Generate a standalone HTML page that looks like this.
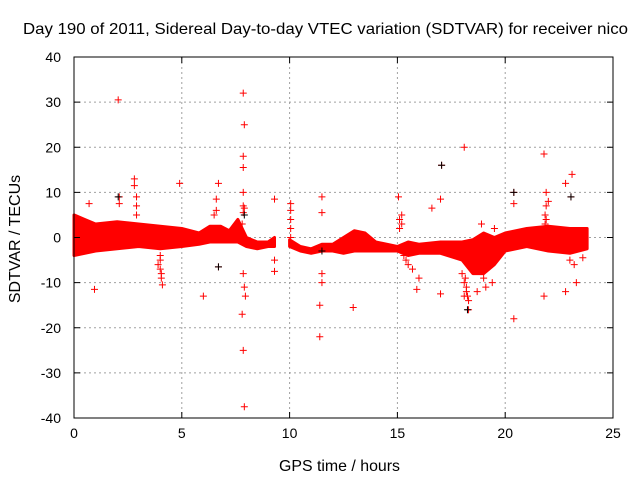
<!DOCTYPE html>
<html><head><meta charset="utf-8"><style>
body{margin:0;background:#fff}
svg text{font-family:"Liberation Sans",Arial,sans-serif;font-size:14px;fill:#000}
</style></head><body>
<svg id="c" width="640" height="480">
<rect width="640" height="480" fill="#fff"/>
<g id="grid"></g><g id="band"></g><g id="pts"></g><g id="axes"></g>
</svg>
<script>
const xTicks=[0,5,10,15,20,25];
const yTicks=[-40,-30,-20,-10,0,10,20,30,40];
// dense band: time, upper, lower (TECU)
const bandTimes=[0,0.5,1,2,3,4,5,5.8,6.3,6.8,7.2,7.6,8,8.5,9,9.3];
const bandUpper=[5,4,3,3.5,3,2.5,2,1,2.5,2.5,1.5,4,0,-1,-1,0];
const bandLower=[-4,-3.5,-3,-2.5,-2,-2.5,-2,-1.5,-1,-1,-1,-1,-2,-2.5,-2,-2];
const band2Times=[10,10.5,11,11.5,12,12.5,13,13.5,14,15,15.5,16,17,18,18.5,19,19.5,20,21,22,23,23.8];
const band2Upper=[-0.5,-2,-2.5,-1.5,-1.5,0,1.5,1,-1,-2,-1,-1.5,-1,-1,-0.5,1,0,1,2,2.5,2,2];
const band2Lower=[-2,-3,-3.5,-3,-3,-3.5,-3,-3,-3,-3,-4,-3.5,-3.5,-5,-8,-8,-6,-3,-2,-3,-3.5,-2.5];
// scattered points
const redT=[2.05,7.85,7.9,7.85,7.85,7.85,7.85,7.85,7.85,7.9,7.95,7.8,7.85,7.9,2.8,2.8,2.1,2.1,0.7,0.95,4.9,6.0,6.7,6.6,6.7,9.3,9.3,9.3,10.05,10.05,10.05,11.5,11.5,11.4,11.4,11.5,11.5,12.95,15.05,15.2,15.9,16.6,17.05,17.0,17.0,18.1,18.3,18.2,18.9,19.5,20.4,20.4,20.4,21.8,21.8,21.9,22.8,23.1,23.05,22.8,23.3,23.6,18.7,19.4,16.0,4.0,4.0,4.05,4.1,3.9,2.9,2.9,2.9,6.5,6.6,15.1,15.1,15.3,15.5,15.7,18.0,18.1,18.2,18.1,18.3,21.85,21.9,22.0,23.0,23.2,4.0,4.05,15.2,15.4,18.15,18.2,18.25,21.85,21.9,7.8,7.9,10.05,10.05,19.0,19.1];
const redV=[30.5,32,25,18,15.5,10,7,5.5,-8,-11,-13,-17,-25,-37.5,13,11.5,9,7.5,7.5,-11.5,12,-13,12,8.5,-6.5,8.5,-5,-7.5,7.5,6,4,9,5.5,-15,-22,-8,-10,-15.5,9,5,-11.5,6.5,16,8.5,-12.5,20,-16,-2,3,2,10,7.5,-18,18.5,-13,10,12,14,9,-12,-10,-4.5,-12,-10,-9,-5,-7,-9,-10.5,-6,5,7,9,5,6,4,2,-4,-6,-7,-8,-10,-12,-13,-14,5,7,8,-5,-6,-4,-8,3,-5,-9,-11,-13,3,4,3,6.5,2,0,-9,-11];
const blackT=[2.05,7.9,18.25,17.05,20.4,23.05,6.7,11.5];
const blackV=[9,5,-16,16,10,9,-6.5,-3];
const X0=74,X1=613,Y0=418,Y1=57;
const sx=t=>X0+(t-0)/(25-0)*(X1-X0);
const sy=v=>Y0-(v+40)/80*(Y0-Y1);
const NS="http://www.w3.org/2000/svg";
function mk(tag,attrs,parent){const e=document.createElementNS(NS,tag);for(const k in attrs)e.setAttribute(k,attrs[k]);parent.appendChild(e);return e;}
const g=document.getElementById('grid'),b=document.getElementById('band'),p=document.getElementById('pts'),a=document.getElementById('axes');
xTicks.forEach(t=>{if(t>0&&t<25){const l=mk('line',{x1:sx(t),x2:sx(t),y1:Y1,y2:Y0,stroke:'#a0a0a0','stroke-dasharray':'2,3'},g);

}});
yTicks.forEach(v=>{if(v>-40&&v<40){const l=mk('line',{x1:X0,x2:X1,y1:sy(v),y2:sy(v),stroke:'#a0a0a0','stroke-dasharray':'2,3'},g);

}});
function drawBand(T,U,L){let pts=T.map((t,i)=>sx(t)+','+sy(U[i]));for(let i=T.length-1;i>=0;i--)pts.push(sx(T[i])+','+sy(L[i]));
const e=mk('polygon',{points:pts.join(' '),fill:'#ff0000',stroke:'#ff0000','stroke-width':3,'stroke-linejoin':'round'},b);

}
drawBand(bandTimes,bandUpper,bandLower);
drawBand(band2Times,band2Upper,band2Lower);
function plus(t,v,col,name){const x=sx(t),y=sy(v);const e=mk('path',{d:`M${x-3.5},${y}h7M${x},${y-3.5}v7`,stroke:col,'stroke-width':1,fill:'none'},p);

}
redT.forEach((t,i)=>plus(t,redV[i],'#ff0000','sdtvar-point'));
blackT.forEach((t,i)=>plus(t,blackV[i],'#000','sdtvar-black-point'));
const fr=mk('rect',{x:X0,y:Y1,width:X1-X0,height:Y0-Y1,fill:'none',stroke:'#000'},a);


xTicks.forEach(t=>{mk('path',{d:`M${sx(t)},${Y0}v-6M${sx(t)},${Y1}v6`,stroke:'#000'},a);
const tx=mk('text',{x:sx(t),y:Y0+20,'text-anchor':'middle'},a);tx.textContent=t;

});
yTicks.forEach(v=>{mk('path',{d:`M${X0},${sy(v)}h6M${X1},${sy(v)}h-6`,stroke:'#000'},a);
const tx=mk('text',{x:X0-13,y:sy(v)+5,'text-anchor':'end'},a);tx.textContent=v;

});
</script>
<svg style="position:absolute;left:0;top:0" width="640" height="480">
<text x="23" y="34" style="font-size:16px" textLength="605" lengthAdjust="spacingAndGlyphs">Day 190 of 2011, Sidereal Day-to-day VTEC variation (SDTVAR) for receiver nico</text>
<text x="279" y="471" style="font-size:16px" textLength="121" lengthAdjust="spacingAndGlyphs">GPS time / hours</text>
<text transform="translate(20,239) rotate(-90)" text-anchor="middle" style="font-size:16px">SDTVAR / TECUs</text>
</svg>
</body></html>
